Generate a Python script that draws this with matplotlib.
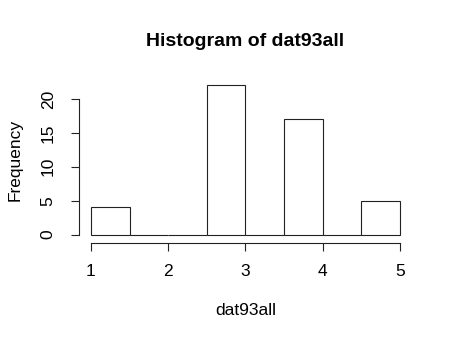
import matplotlib.pyplot as plt

# histogram of dat93all, bins of width 0.5 from 1 to 5
bin_edges = [1.0, 1.5, 2.0, 2.5, 3.0, 3.5, 4.0, 4.5, 5.0]
counts = [4, 0, 0, 22, 0, 17, 0, 5]
x_ticks = [1, 2, 3, 4, 5]
y_ticks = [0, 5, 10, 15, 20]


def main():
    plt.rcParams['font.family'] = ['Liberation Sans', 'DejaVu Sans']
    fig = plt.figure(figsize=(4.53, 3.39), dpi=100)
    W, H = 453, 339
    left, right, top, bottom = 78.6, 412.4, 79.5, 240.5
    ax = fig.add_axes([left / W, 1 - bottom / H, (right - left) / W, (bottom - top) / H])

    lefts = bin_edges[:-1]
    widths = [b - a for a, b in zip(bin_edges[:-1], bin_edges[1:])]
    ax.bar(lefts, counts, width=widths, align='edge', facecolor='white',
           edgecolor='#222222', linewidth=0.8)

    ax.set_xlim(0.84, 5.16)
    ax.set_ylim(-0.88, 22.88)
    for s in ['top', 'right']:
        ax.spines[s].set_visible(False)
    ax.spines['left'].set_bounds(0, 20)
    ax.spines['bottom'].set_bounds(1, 5)
    ax.spines['bottom'].set_position(('outward', 1.5))
    for s in ['left', 'bottom']:
        ax.spines[s].set_color('#222222')
        ax.spines[s].set_linewidth(0.8)

    ax.set_xticks(x_ticks)
    ax.set_yticks(y_ticks)
    ax.set_yticklabels([str(v) for v in y_ticks], rotation=90, va='center')
    ax.tick_params(length=5.5, width=0.8, color='#222222', labelsize=12.5)
    ax.tick_params(axis='x', pad=10)
    ax.tick_params(axis='y', pad=11)

    ax.set_xlabel('dat93all', fontsize=12.5, labelpad=17)
    ax.set_ylabel('Frequency', fontsize=12.5, labelpad=13)
    ax.set_title('Histogram of dat93all', fontsize=14, fontweight='bold', pad=24)

    plt.savefig('out.png', dpi=100)


if __name__ == '__main__':
    main()
